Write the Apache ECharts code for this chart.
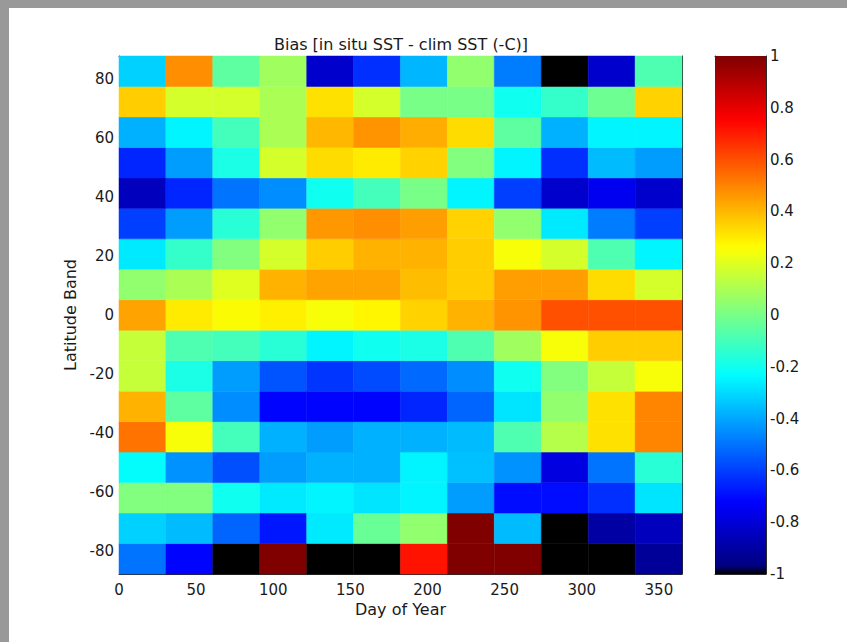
<!DOCTYPE html>
<html>
<head>
<meta charset="utf-8">
<title>Bias [in situ SST - clim SST]</title>
<script src="https://cdn.jsdelivr.net/npm/echarts@6/dist/echarts.min.js"></script>
<style>
    html, body { margin: 0; padding: 0; background: #fff; }
    #chart { width: 847px; height: 642px; }
</style>
</head>
<body>
<div id="chart"></div>
<script>
// ========== 数据 ==========
// cell edges along day of year (12 columns)
const dayEdges = [0, 30.4, 60.8, 91.3, 121.7, 152.1, 182.5, 212.9, 243.3, 273.8, 304.2, 334.6, 365];
// cell edges along latitude (17 bands, south -> north)
const latEdges = [-87.66, -77.34, -67.03, -56.72, -46.41, -36.09, -25.78, -15.47, -5.16,
    5.16, 15.47, 25.78, 36.09, 46.41, 56.72, 67.03, 77.34, 87.66];

// bias per latitude band (-1 = no data, drawn black)
const band01 = [-0.50, -0.72, -1.00, 1.00, -1.00, -1.00, 0.72, 1.00, 1.00, -1.00, -1.00, -0.92];
const band02 = [-0.32, -0.36, -0.53, -0.68, -0.27, -0.03, 0.05, 1.00, -0.36, -1.00, -0.90, -0.85];
const band03 = [0.02, 0.02, -0.20, -0.27, -0.25, -0.28, -0.25, -0.42, -0.70, -0.70, -0.63, -0.28];
const band04 = [-0.23, -0.44, -0.57, -0.42, -0.38, -0.38, -0.25, -0.35, -0.44, -0.78, -0.50, -0.15];
const band05 = [0.53, 0.25, -0.10, -0.38, -0.42, -0.38, -0.38, -0.36, -0.08, 0.12, 0.32, 0.50];
const band06 = [0.41, -0.05, -0.45, -0.72, -0.72, -0.72, -0.65, -0.53, -0.28, 0.05, 0.32, 0.50];
const band07 = [0.15, -0.18, -0.42, -0.56, -0.62, -0.58, -0.52, -0.45, -0.20, 0.02, 0.15, 0.25];
const band08 = [0.15, -0.08, -0.10, -0.15, -0.25, -0.20, -0.18, -0.08, 0.08, 0.25, 0.36, 0.36];
const band09 = [0.44, 0.30, 0.26, 0.29, 0.25, 0.28, 0.35, 0.41, 0.47, 0.60, 0.60, 0.60];
const band10 = [0.05, 0.10, 0.20, 0.41, 0.44, 0.44, 0.39, 0.36, 0.45, 0.45, 0.33, 0.18];
const band11 = [-0.27, -0.13, 0.02, 0.18, 0.36, 0.41, 0.41, 0.36, 0.25, 0.18, -0.08, -0.25];
const band12 = [-0.60, -0.42, -0.15, 0.05, 0.46, 0.48, 0.45, 0.35, 0.05, -0.27, -0.48, -0.60];
const band13 = [-0.85, -0.65, -0.50, -0.45, -0.20, -0.10, 0.00, -0.25, -0.60, -0.82, -0.75, -0.82];
const band14 = [-0.65, -0.42, -0.18, 0.18, 0.33, 0.30, 0.35, 0.02, -0.25, -0.63, -0.36, -0.42];
const band15 = [-0.38, -0.25, -0.10, 0.10, 0.40, 0.47, 0.42, 0.33, -0.05, -0.38, -0.25, -0.25];
const band16 = [0.36, 0.18, 0.18, 0.10, 0.32, 0.18, 0.00, 0.00, -0.20, -0.13, -0.02, 0.35];
const band17 = [-0.32, 0.48, -0.05, 0.08, -0.82, -0.63, -0.37, 0.05, -0.48, -1.00, -0.82, -0.08];

const biasBands = [band01, band02, band03, band04, band05, band06, band07, band08, band09,
    band10, band11, band12, band13, band14, band15, band16, band17];

// tick labels
const dayTicks = [0, 50, 100, 150, 200, 250, 300, 350];
const latTicks = [-80, -60, -40, -20, 0, 20, 40, 60, 80];
const cbarTicks = [-1, -0.8, -0.6, -0.4, -0.2, 0, 0.2, 0.4, 0.6, 0.8, 1];

// ========== 样式 ==========
const FONT = 'DejaVu Sans';
const TEXT_COLOR = '#1a1a1a';
const LINE_COLOR = '#2a2a2a';

// jet colormap with black as its first entry (no data)
function jetColor(t) {
    const clamp = v => Math.max(0, Math.min(1, v));
    const r = clamp(1.5 - Math.abs(4 * t - 3));
    const g = clamp(1.5 - Math.abs(4 * t - 2));
    const b = clamp(1.5 - Math.abs(4 * t - 1));
    return 'rgb(' + Math.round(r * 255) + ',' + Math.round(g * 255) + ',' + Math.round(b * 255) + ')';
}
const colormap = ['#000000'];
for (let k = 0; k < 63; k++) colormap.push(jetColor(k / 62));

// ========== 构建数据 ==========
const cells = [];
biasBands.forEach((band, row) => {
    band.forEach((value, col) => {
        cells.push([dayEdges[col], latEdges[row], dayEdges[col + 1], latEdges[row + 1], value]);
    });
});

function renderCell(params, api) {
    const p0 = api.coord([api.value(0), api.value(3)]);
    const p1 = api.coord([api.value(2), api.value(1)]);
    const color = api.visual('color');
    return {
        type: 'rect',
        shape: { x: p0[0], y: p0[1], width: p1[0] - p0[0], height: p1[1] - p0[1] },
        style: { fill: color, stroke: color, lineWidth: 0.5 }
    };
}

function renderColorbar(params, api) {
    const p0 = api.coord([0, cbarTicks[cbarTicks.length - 1]]);
    const p1 = api.coord([1, cbarTicks[0]]);
    const stops = colormap.map((c, i) => ({ offset: i / (colormap.length - 1), color: c }));
    return {
        type: 'rect',
        shape: { x: p0[0], y: p0[1], width: p1[0] - p0[0], height: p1[1] - p0[1] },
        style: { fill: new echarts.graphic.LinearGradient(0, 1, 0, 0, stops) }
    };
}

// ========== 坐标轴 ==========
function tickAxis(extra) {
    return Object.assign({
        type: 'value',
        axisLine: { show: true, onZero: false, lineStyle: { color: LINE_COLOR, width: 1 } },
        axisTick: { show: true, inside: true, length: 5, lineStyle: { color: LINE_COLOR } },
        axisLabel: { show: false },
        splitLine: { show: false }
    }, extra);
}

const labelStyle = { fontFamily: FONT, fontSize: 15, color: TEXT_COLOR };
const nameStyle = { fontFamily: FONT, fontSize: 16, color: TEXT_COLOR };

const chart = echarts.init(document.getElementById('chart'), null, { renderer: 'svg' });

const option = {
    backgroundColor: '#ffffff',
    animation: false,
    graphic: [
        { type: 'rect', silent: true, shape: { x: 0, y: 0, width: 9, height: 642 }, style: { fill: '#999999' } },
        { type: 'rect', silent: true, shape: { x: 0, y: 0, width: 847, height: 8 }, style: { fill: '#999999' } },
        {
            type: 'text', silent: true, x: 401, y: 44,
            style: {
                text: 'Bias [in situ SST - clim SST (-C)]',
                font: '16px "DejaVu Sans"', fill: TEXT_COLOR,
                align: 'center', verticalAlign: 'middle',
                textAlign: 'center', textVerticalAlign: 'middle'
            }
        }
    ],
    grid: [
        { left: 119, top: 56, width: 563, height: 518 },
        { left: 715, top: 56, width: 51, height: 518 }
    ],
    xAxis: [
        tickAxis({
            gridIndex: 0, position: 'bottom', min: 0, max: 365,
            axisTick: { show: true, inside: true, length: 5, customValues: dayTicks, lineStyle: { color: LINE_COLOR } },
            axisLabel: Object.assign({ show: true, margin: 8, customValues: dayTicks }, labelStyle),
            name: 'Day of Year', nameLocation: 'middle', nameGap: 23, nameTextStyle: nameStyle
        }),
        tickAxis({
            gridIndex: 0, position: 'top', min: 0, max: 365,
            axisTick: { show: true, inside: true, length: 5, customValues: dayTicks, lineStyle: { color: LINE_COLOR } }
        }),
        tickAxis({
            gridIndex: 1, position: 'bottom', min: 0, max: 1,
            axisTick: { show: false }
        }),
        tickAxis({
            gridIndex: 1, position: 'top', min: 0, max: 1,
            axisTick: { show: false }
        })
    ],
    yAxis: [
        tickAxis({
            gridIndex: 0, position: 'left', min: latEdges[0], max: latEdges[latEdges.length - 1],
            axisTick: { show: true, inside: true, length: 5, customValues: latTicks, lineStyle: { color: LINE_COLOR } },
            axisLabel: Object.assign({ show: true, margin: 5, customValues: latTicks }, labelStyle),
            name: 'Latitude Band', nameLocation: 'middle', nameGap: 32, nameRotate: 90, nameTextStyle: nameStyle
        }),
        tickAxis({
            gridIndex: 0, position: 'right', min: latEdges[0], max: latEdges[latEdges.length - 1],
            axisTick: { show: true, inside: true, length: 5, customValues: latTicks, lineStyle: { color: LINE_COLOR } }
        }),
        tickAxis({
            gridIndex: 1, position: 'right', min: -1, max: 1,
            axisTick: { show: true, inside: true, length: 4, customValues: cbarTicks, lineStyle: { color: LINE_COLOR } },
            axisLabel: Object.assign({ show: true, margin: 4, customValues: cbarTicks }, labelStyle)
        }),
        tickAxis({
            gridIndex: 1, position: 'left', min: -1, max: 1,
            axisTick: { show: true, inside: true, length: 4, customValues: cbarTicks, lineStyle: { color: LINE_COLOR } }
        })
    ],
    visualMap: {
        type: 'continuous',
        show: false,
        min: -1,
        max: 1,
        dimension: 4,
        seriesIndex: 0,
        inRange: { color: colormap }
    },
    series: [
        {
            type: 'custom',
            xAxisIndex: 0,
            yAxisIndex: 0,
            renderItem: renderCell,
            encode: { x: [0, 2], y: [1, 3] },
            data: cells,
            z: 1
        },
        {
            type: 'custom',
            xAxisIndex: 2,
            yAxisIndex: 2,
            renderItem: renderColorbar,
            data: [[0, -1, 1, 1]],
            z: 1
        }
    ]
};

chart.setOption(option);
</script>
</body>
</html>
